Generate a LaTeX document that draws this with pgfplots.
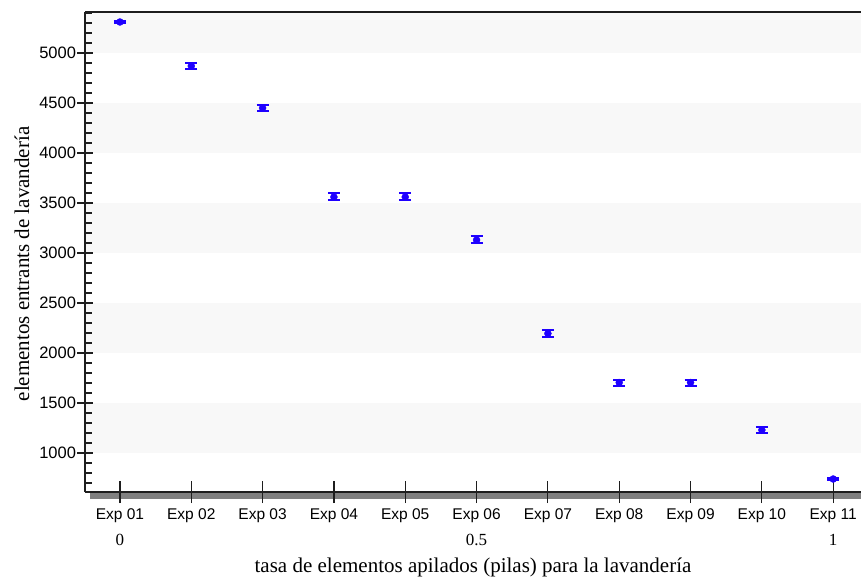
\documentclass[border=0pt]{standalone}
\usepackage{pgfplots}
\pgfplotsset{compat=1.18}
\usepackage{fontspec}
\setmainfont{Liberation Serif}
\newfontfamily\arialf{Liberation Sans}
\definecolor{ptblue}{RGB}{30,0,255}
\definecolor{band}{RGB}{248,248,248}
\definecolor{axcol}{RGB}{30,30,30}
\begin{document}
\begin{tikzpicture}
\pgfplotsset{
  common/.style={
    width=776pt, height=480pt, scale only axis,
    xmin=-0.49, xmax=10.39, ymin=610, ymax=5410,
    clip=false,
  }
}
% main axis: bands, data, x ticks
\begin{axis}[common,
  set layers,
  axis lines*=left,
  axis line style={line width=2.2pt, axcol},
  xtick={0,...,10},
  xticklabels={Exp 01,Exp 02,Exp 03,Exp 04,Exp 05,Exp 06,Exp 07,Exp 08,Exp 09,Exp 10,Exp 11},
  xticklabel style={font=\arialf\fontsize{15.5}{18}\selectfont, yshift=-2pt},
  ytick=\empty,
  tick align=center,
  major tick length=22pt,
  tick style={line width=1.2pt, axcol},
  xlabel={tasa de elementos apilados (pilas) para la lavandería},
  xlabel style={font=\fontsize{21}{24}\selectfont, yshift=-28pt},
]
\begin{pgfonlayer}{axis background}
\fill[band] (axis cs:-0.49,1000) rectangle (axis cs:10.39,1500);
\fill[band] (axis cs:-0.49,2000) rectangle (axis cs:10.39,2500);
\fill[band] (axis cs:-0.49,3000) rectangle (axis cs:10.39,3500);
\fill[band] (axis cs:-0.49,4000) rectangle (axis cs:10.39,4500);
\fill[band] (axis cs:-0.49,5000) rectangle (axis cs:10.39,5410);
\fill[black!50] ([xshift=5pt,yshift=-1pt]rel axis cs:0,0) rectangle ([yshift=-7pt]rel axis cs:1,0);
\end{pgfonlayer}
\draw[line width=2.2pt, axcol] (rel axis cs:0,1) -- (rel axis cs:1,1);
\addplot[only marks, mark=*, mark size=3.5pt, color=ptblue,
  error bars/.cd, y dir=both, y explicit,
  error bar style={line width=2pt, ptblue},
  error mark options={rotate=90, mark size=6pt, line width=2pt, ptblue}]
  coordinates {
  (0,5310) +- (0,12)
  (1,4870) +- (0,30)
  (2,4450) +- (0,30)
  (3,3560) +- (0,35)
  (4,3560) +- (0,35)
  (5,3130) +- (0,35)
  (6,2195) +- (0,35)
  (7,1705) +- (0,30)
  (8,1705) +- (0,30)
  (9,1230) +- (0,30)
  (10,740) +- (0,12)
  };
\node[font=\fontsize{17}{19}\selectfont] at ([yshift=-48pt]axis cs:0,610) {0};
\node[font=\fontsize{17}{19}\selectfont] at ([yshift=-48pt]axis cs:5,610) {0.5};
\node[font=\fontsize{17}{19}\selectfont] at ([yshift=-48pt]axis cs:10,610) {1};
\end{axis}
% y major ticks
\begin{axis}[common,
  hide x axis,
  axis y line*=left,
  axis line style={draw=none},
  ytick={1000,1500,...,5000},
  /pgf/number format/1000 sep={},
  /pgf/number format/assume math mode=true,
  yticklabel style={font=\arialf\fontsize{16.5}{18}\selectfont, xshift=2pt},
  tick align=center,
  major tick length=15pt,
  tick style={line width=1.2pt, axcol},
  ylabel={elementos entrants de lavandería},
  ylabel style={font=\fontsize{21}{24}\selectfont, yshift=3pt, xshift=-12pt},
]
\end{axis}
% y minor ticks
\begin{axis}[common,
  hide x axis,
  axis y line*=left,
  axis line style={draw=none},
  ytick={700,800,900,1100,1200,1300,1400,1600,1700,1800,1900,2100,2200,2300,2400,2600,2700,2800,2900,3100,3200,3300,3400,3600,3700,3800,3900,4100,4200,4300,4400,4600,4700,4800,4900,5100,5200,5300,5400},
  yticklabels={},
  tick align=inside,
  major tick length=7pt,
  tick style={line width=1.2pt, axcol},
]
\end{axis}
\pgfresetboundingbox
\path[use as bounding box] (current axis.south west) ++(-85pt,-89pt) rectangle ++(861pt,581pt);
\end{tikzpicture}
\end{document}
